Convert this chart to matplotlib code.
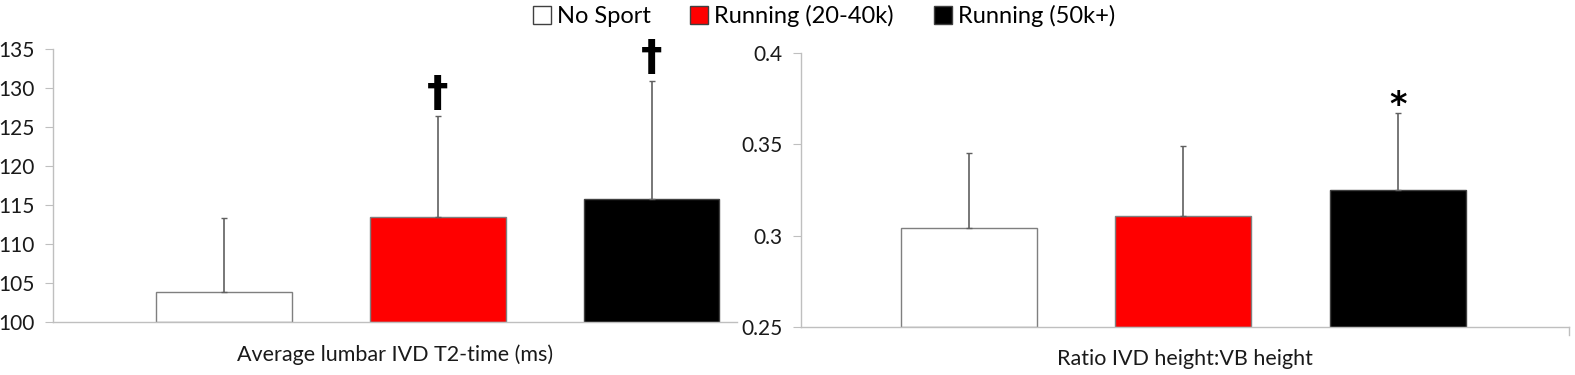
import matplotlib
matplotlib.use("Agg")
import matplotlib.pyplot as plt
from matplotlib.lines import Line2D

plt.rcParams['font.family'] = ['Lato', 'DejaVu Sans']

groups = ["No Sport", "Running (20-40k)", "Running (50k+)"]
colors = ["white", "#ff0000", "black"]
edgecolors = ["#7f7f7f", "#7f7f7f", "#404040"]

t2_means = [103.9, 113.4, 115.8]
t2_err = [9.4, 13.0, 15.1]
t2_marks = ["", "\u2020", "\u2020"]

ratio_means = [0.304, 0.311, 0.325]
ratio_err = [0.041, 0.038, 0.042]
ratio_marks = ["", "", "*"]

fig = plt.figure(figsize=(15.75, 3.75), dpi=100)
ax1 = fig.add_axes([53/1575, 1-322/375, 684/1575, 273/375])
ax2 = fig.add_axes([801/1575, 1-327/375, 768/1575, 274/375])

axis_col = "#bfbfbf"

def draw(ax, means, errs, marks, ylim, yticks, ticklabels, xlim, xlabel, mark_off, mark_size):
    x = list(range(len(means)))
    ax.bar(x, [m - ylim[0] for m in means], bottom=ylim[0], width=0.635,
           color=colors, edgecolor=edgecolors, linewidth=1.0, zorder=2)
    ax.errorbar(x, means, yerr=[[0]*len(errs), errs], fmt="none",
                ecolor="#606060", elinewidth=1.2, capsize=2, capthick=1, zorder=3)
    for xi, m, e, mk in zip(x, means, errs, marks):
        if mk:
            ax.text(xi, m + e + mark_off, mk, ha="center", va="bottom",
                    fontsize=mark_size, fontweight="bold", family="DejaVu Sans")
    ax.set_ylim(*ylim)
    ax.set_xlim(*xlim)
    ax.set_yticks(yticks)
    ax.set_yticklabels(ticklabels)
    ax.set_xticks([])
    for s in ["top", "right"]:
        ax.spines[s].set_visible(False)
    for s in ["left", "bottom"]:
        ax.spines[s].set_color(axis_col)
        ax.spines[s].set_linewidth(1.0)
    ax.tick_params(axis="y", direction="out", length=6, color=axis_col,
                   labelsize=15, pad=7, labelcolor="#1a1a1a")
    ax.set_xlabel(xlabel, fontsize=15.5, labelpad=16, color="#1a1a1a")

draw(ax1, t2_means, t2_err, t2_marks, (100, 135), [100, 105, 110, 115, 120, 125, 130, 135],
     ["100", "105", "110", "115", "120", "125", "130", "135"], (-0.80, 2.40),
     "Average lumbar IVD T2-time (ms)", 0.2, 31)
draw(ax2, ratio_means, ratio_err, ratio_marks, (0.25, 0.4), [0.25, 0.3, 0.35, 0.4],
     ["0.25", "0.3", "0.35", "0.4"], (-0.785, 2.80),
     "Ratio IVD height:VB height", -0.005, 24)
ax2.plot([1, 1], [0, -0.03], transform=ax2.transAxes, color=axis_col, lw=1.0, clip_on=False)

handles = [Line2D([], [], marker="s", linestyle="none", markersize=13,
                  markerfacecolor=c, markeredgecolor="#404040", markeredgewidth=1.0)
           for c in colors]
fig.legend(handles, groups, loc="center", bbox_to_anchor=(823/1575, 1-16/375), ncol=3,
           frameon=False, fontsize=17, handletextpad=0.2, columnspacing=1.6,
           handlelength=0.9)

fig.savefig("out.png", dpi=100)
